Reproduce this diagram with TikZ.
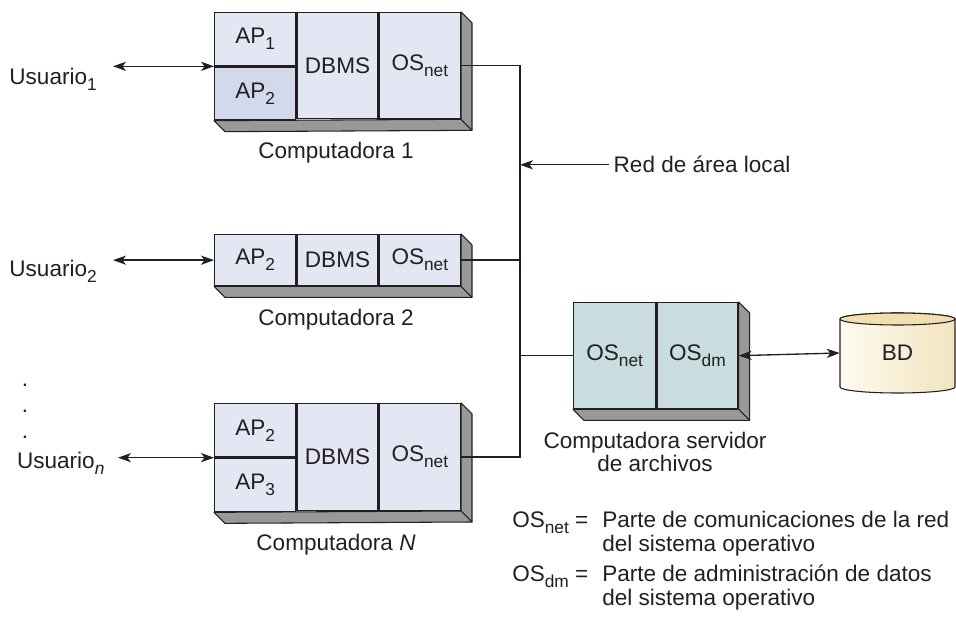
\documentclass[tikz,border=0pt]{standalone}
\usepackage{fontspec}
\setmainfont{Liberation Sans}
\usetikzlibrary{arrows.meta,positioning}

\definecolor{ink}{HTML}{231F20}
\definecolor{boxfill}{HTML}{E3E7F3}
\definecolor{apdark}{HTML}{D2D9EB}
\definecolor{depthgray}{HTML}{999999}
\definecolor{srvfill}{HTML}{C9DCE0}
\definecolor{bdlight}{HTML}{FDFAF1}
\definecolor{bddark}{HTML}{F3E4BE}
\definecolor{bdtop}{HTML}{F1DFB2}

\newcommand{\lowidx}[1]{\raisebox{-4.5pt}{\fontsize{13}{13}\selectfont #1}}

\tikzset{
  cell/.style={draw=ink, line width=1pt, fill=boxfill, anchor=north west,
    inner sep=0pt, minimum width=60.75pt},
  depth/.style={draw=ink, line width=0.8pt, fill=depthgray, line join=round},
  wire/.style={draw=ink, line width=1pt},
}

\begin{document}
\begin{tikzpicture}[x=0.75pt, y=-0.75pt,
  every node/.style={font=\fontsize{16.9}{18}\selectfont, text=ink},
  >={Stealth[length=3.4mm, width=2.4mm, inset=0.9mm]}]
	\useasboundingbox (0,0) rectangle (956,623);

	% computadora 1
	\node[cell, minimum height=39.75pt] (c1ap1) at (214,12) {AP\lowidx{1}};
	\node[cell, fill=apdark, minimum height=39.75pt] (c1ap2) at (c1ap1.south west) {AP\lowidx{2}};
	\node[cell, minimum height=79.5pt] (c1db) at (c1ap1.north east) {DBMS};
	\node[cell, minimum height=79.5pt] (c1os) at (c1db.north east) {OS\lowidx{net}};
	\draw[depth] (c1ap2.south west) -- ([shift={(11,11)}]c1ap2.south west)
		-- ([shift={(11,11)}]c1os.south east) -- ([shift={(11,11)}]c1os.north east)
		-- (c1os.north east) -- (c1os.south east) -- cycle;
	\draw[depth] (c1os.south east) -- ([shift={(11,11)}]c1os.south east);
	\node[anchor=base] (c1name) at (336,159) {Computadora 1};

	% computadora 2
	\node[cell, minimum height=38.25pt] (c2ap) at (214,234) {AP\lowidx{2}};
	\node[cell, minimum height=38.25pt] (c2db) at (c2ap.north east) {DBMS};
	\node[cell, minimum height=38.25pt] (c2os) at (c2db.north east) {OS\lowidx{net}};
	\draw[depth] (c2ap.south west) -- ([shift={(11,11)}]c2ap.south west)
		-- ([shift={(11,11)}]c2os.south east) -- ([shift={(11,11)}]c2os.north east)
		-- (c2os.north east) -- (c2os.south east) -- cycle;
	\draw[depth] (c2os.south east) -- ([shift={(11,11)}]c2os.south east);
	\node[anchor=base] (c2name) at (336,326) {Computadora 2};

	% computadora N
	\node[cell, minimum height=40pt] (cNap2) at (214,403) {AP\lowidx{2}};
	\node[cell, minimum height=40pt] (cNap3) at (cNap2.south west) {AP\lowidx{3}};
	\node[cell, minimum height=80pt] (cNdb) at (cNap2.north east) {DBMS};
	\node[cell, minimum height=80pt] (cNos) at (cNdb.north east) {OS\lowidx{net}};
	\draw[depth] (cNap3.south west) -- ([shift={(11,11)}]cNap3.south west)
		-- ([shift={(11,11)}]cNos.south east) -- ([shift={(11,11)}]cNos.north east)
		-- (cNos.north east) -- (cNos.south east) -- cycle;
	\draw[depth] (cNos.south east) -- ([shift={(11,11)}]cNos.south east);
	\node[anchor=base] (cNname) at (336,550) {Computadora \textit{N}};

	% usuarios
	\node[anchor=base east, inner xsep=12pt] (u1) at (113,85) {Usuario\lowidx{1}};
	\node[anchor=base east, inner xsep=12pt] (u2) at (113,277) {Usuario\lowidx{2}};
	\node[anchor=base east, inner xsep=10pt] (un) at (118,468) {Usuario\lowidx{\textit{n}}};
	\node (dot1) at (25,385) {.};
	\node (dot2) at (25,411) {.};
	\node (dot3) at (25,437) {.};
	\draw[wire, <->] (u1.east |- c1ap1.south) -- (c1ap1.south west);
	\draw[wire, <->] (u2.east |- c2ap.west) -- (c2ap.west);
	\draw[wire, <->] (un.east |- cNap2.south) -- (cNap2.south west);

	% servidor de archivos
	\node[cell, fill=srvfill, minimum width=61.5pt, minimum height=79.5pt] (snet) at (573,302) {OS\lowidx{net}};
	\node[cell, fill=srvfill, minimum height=79.5pt] (sdm) at (snet.north east) {OS\lowidx{dm}};
	\draw[depth] (snet.south west) -- ([shift={(11,11)}]snet.south west)
		-- ([shift={(11,11)}]sdm.south east) -- ([shift={(11,11)}]sdm.north east)
		-- (sdm.north east) -- (sdm.south east) -- cycle;
	\draw[depth] (sdm.south east) -- ([shift={(11,11)}]sdm.south east);
	\node[anchor=north, align=center, font=\fontsize{16.9}{17.25}\selectfont] (sname) at (655,427)
		{Computadora servidor\\de archivos};

	% base de datos
	\coordinate (bdc) at (897.5,353);
	\draw[ink, line width=0.8pt, left color=bdlight, right color=bddark]
		([shift={(-57.5,-34)}]bdc) -- ([shift={(-57.5,34)}]bdc)
		arc[start angle=180, end angle=0, x radius=57.5, y radius=6]
		-- ([shift={(57.5,-34)}]bdc)
		arc[start angle=0, end angle=-180, x radius=57.5, y radius=6] -- cycle;
	\draw[ink, line width=0.8pt, fill=bdtop] ([shift={(0,-34)}]bdc) ellipse[x radius=57.5, y radius=6];
	\node[minimum width=86.25pt, minimum height=60pt] (bd) at (bdc) {BD};
	\draw[wire, <->] (sdm.east) -- (bd.west);

	% red de area local
	\coordinate (bus) at (520,0);
	\draw[wire] (c1os.east) -- (bus |- c1os.east) -- (bus |- cNos.east) -- (cNos.east);
	\draw[wire] (c2os.east) -- (bus |- c2os.east);
	\draw[wire] (snet.west) -- (bus |- snet.west);
	\node[anchor=base west] (lan) at (609,173) {Red de área local};
	\draw[wire, ->] (lan.west) -- (bus |- lan.west);

	% leyenda
	\node[anchor=base west, inner sep=0pt] (knet) at (512,527) {OS\lowidx{net} =};
	\node[anchor=north west, inner sep=0pt, align=left] (knettext) at (602,511)
		{Parte de comunicaciones de la red\\del sistema operativo};
	\node[anchor=base west, inner sep=0pt] (kdm) at (512,581) {OS\lowidx{dm} =};
	\node[anchor=north west, inner sep=0pt, align=left] (kdmtext) at (602,565)
		{Parte de administración de datos\\del sistema operativo};
\end{tikzpicture}
\end{document}
